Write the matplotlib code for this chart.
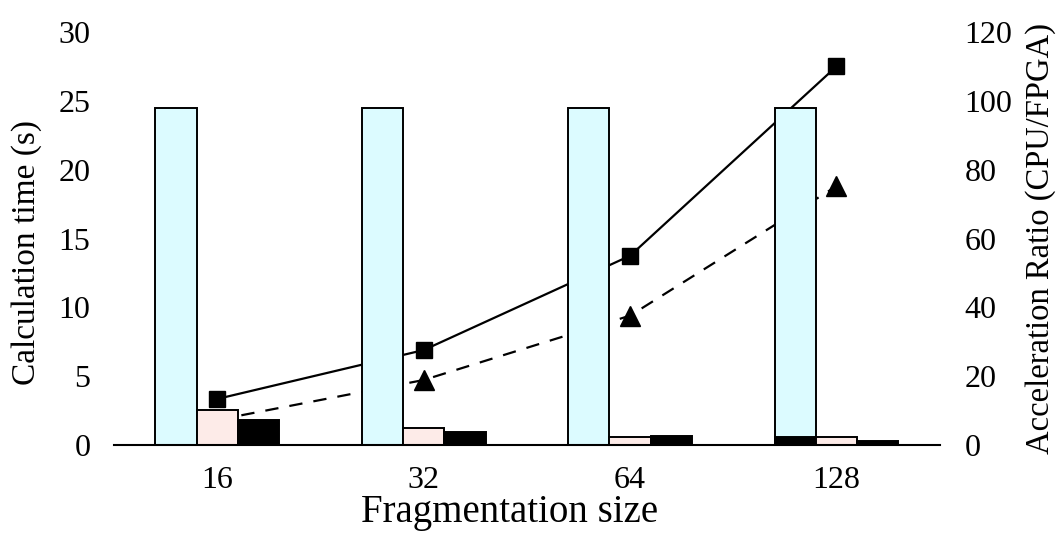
import matplotlib.pyplot as plt
import numpy as np

# Data
sizes = ['16', '32', '64', '128']
cpu_time = [24.5, 24.5, 24.5, 24.5]          # light cyan bars
fpga_time_a = [2.55, 1.25, 0.55, 0.55]       # light pink bars
fpga_time_b = [1.8, 0.95, 0.65, 0.3]         # black bars
cpu_base_128 = [0.0, 0.0, 0.0, 0.55]         # black strip under cyan bar at 128
ratio_a = [13.4, 27.6, 55.0, 110.0]          # squares, solid
ratio_b = [7.3, 18.9, 37.6, 75.2]            # triangles, dashed

plt.rcParams['font.family'] = ['Liberation Serif', 'DejaVu Serif']

fig = plt.figure(figsize=(10.57, 5.33), dpi=100)
ax1 = fig.add_axes([0.108, 0.165, 0.781, 0.775])
ax2 = ax1.twinx()
# bars in front of the lines
ax1.set_zorder(ax2.get_zorder() + 1)
ax1.patch.set_visible(False)

x = np.arange(len(sizes))
width = 0.2
ax1.bar(x - width, cpu_time, width, color='#dcfbff', edgecolor='black', linewidth=1.4)
idx = [i for i, v in enumerate(cpu_base_128) if v > 0]
ax1.bar(x[idx] - width, [cpu_base_128[i] for i in idx], width, color='black',
        edgecolor='black', linewidth=1.4)
ax1.bar(x, fpga_time_a, width, color='#fdebe8', edgecolor='black', linewidth=1.4)
ax1.bar(x + width, fpga_time_b, width, color='black', edgecolor='black', linewidth=1.4)

ax2.plot(x, ratio_a, color='black', linewidth=1.6, marker='s', markersize=11)
ax2.plot(x, ratio_b, color='black', linewidth=1.6, linestyle=(0, (6, 5)),
         marker='^', markersize=15)

ax1.set_xlim(-0.5, 3.5)
ax1.set_ylim(0, 30)
ax2.set_ylim(0, 120)
ax1.set_xticks(x)
ax1.set_xticklabels(sizes)
ax1.set_yticks([0, 5, 10, 15, 20, 25, 30])
ax2.set_yticks([0, 20, 40, 60, 80, 100, 120])

for ax in (ax1, ax2):
    for s in ('top', 'left', 'right'):
        ax.spines[s].set_visible(False)
    ax.tick_params(length=0, labelsize=23)
ax2.spines['bottom'].set_visible(False)
ax1.spines['bottom'].set_linewidth(1.5)
ax1.tick_params(axis='y', pad=17)
ax1.tick_params(axis='x', pad=15)
ax2.tick_params(axis='y', pad=18)

ax1.set_xlabel('Fragmentation size', fontsize=28)
ax1.set_ylabel('Calculation time (s)', fontsize=24)
ax2.set_ylabel('Acceleration Ratio (CPU/FPGA)', fontsize=23.5)
ax1.xaxis.set_label_coords(0.479, -0.118)
ax1.yaxis.set_label_coords(-0.088, 0.465)
ax2.yaxis.set_label_coords(1.104, 0.5)

plt.savefig('out.png', dpi=100)
